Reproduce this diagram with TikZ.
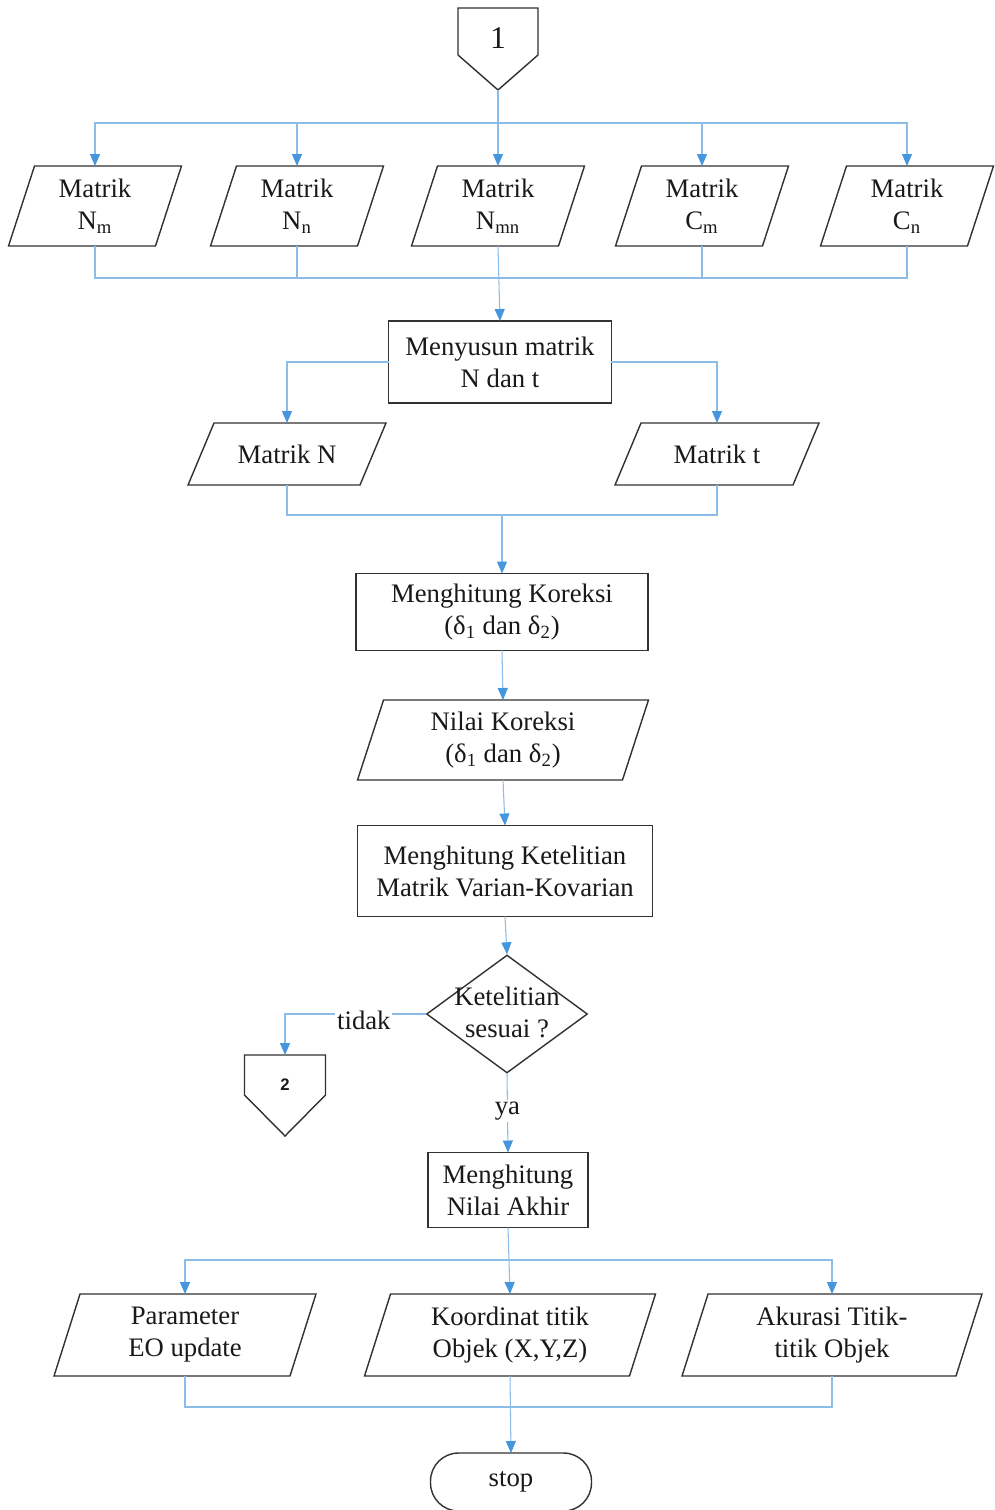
\documentclass[tikz,border=0pt]{standalone}
\usepackage{fontspec}
\setmainfont{Liberation Serif}
\newfontfamily\digitsans{Liberation Sans}
\usetikzlibrary{shapes.geometric,arrows.meta,backgrounds,calc}

\definecolor{flowline}{RGB}{140,188,232}
\definecolor{flowtip}{RGB}{70,150,222}
\definecolor{edge}{RGB}{50,50,50}
\definecolor{ink}{RGB}{25,25,25}

\tikzset{
  base/.style={outer sep=0pt, inner sep=2pt, align=center, text=ink,
    font=\fontsize{15.2}{18.2}\selectfont},
  outline/.style={draw=edge, line width=0.8pt, fill=white},
  procbox/.style={base, outline, rectangle},
  iotext/.style={base, rectangle},
  line/.style={draw=flowline, line width=0.6pt},
  flow/.style={line, -{Triangle[length=0.24cm,width=0.2cm,color=flowtip,fill=flowtip]}},
  lab/.style={base, fill=white, inner sep=1pt},
}

% parallelogram drawn behind an input/output node
\newcommand\ioframe[1]{%
  \begin{scope}[on background layer]
    \draw[outline] ([xshift=0.26cm]#1.north west) -- ([xshift=0.26cm]#1.north east)
      -- ([xshift=-0.26cm]#1.south east) -- ([xshift=-0.26cm]#1.south west) -- cycle;
  \end{scope}}

% off-page connector outline: #2 = depth of straight sides, #3 = depth of tip
\newcommand\offpage[3]{%
  \begin{scope}[on background layer]
    \draw[outline] (#1.north west) -- (#1.north east) -- ($(#1.north east)+(0,#2)$)
      -- ($(#1.north)+(0,#3)$) -- ($(#1.north west)+(0,#2)$) -- cycle;
  \end{scope}}

\begin{document}
\begin{tikzpicture}[x=0.02cm, y=-0.02cm]
\begin{scope}[on background layer]
  \fill[white] (0,0) rectangle (994,1510);
\end{scope}
\useasboundingbox (0,0) rectangle (994,1510);

% start connector
\node[base, rectangle, minimum width=1.6cm, minimum height=1.2cm,
  font=\fontsize{18}{20}\selectfont] (c1) at (498,38) {1};
\offpage{c1}{47}{82}
\coordinate (c1tip) at ($(c1.north)+(0,82)$);

% first row of matrices
\tikzset{rowone/.style={iotext, minimum width=2.94cm, minimum height=1.6cm}}
\node[rowone] (nm)  at (95,206)  {Matrik\\N\textsubscript{m}};
\node[rowone] (nn)  at (297,206) {Matrik\\N\textsubscript{n}};
\node[rowone] (nmn) at (498,206) {Matrik\\N\textsubscript{mn}};
\node[rowone] (cm)  at (702,206) {Matrik\\C\textsubscript{m}};
\node[rowone] (cn)  at (907,206) {Matrik\\C\textsubscript{n}};
\foreach \n in {nm,nn,nmn,cm,cn} {\ioframe{\n}}

\node[procbox, minimum width=4.46cm, minimum height=1.64cm] (susun) at (500,362)
  {Menyusun matrik\\N dan t};

\node[iotext, minimum width=3.44cm, minimum height=1.24cm] (matn) at (287,454) {Matrik N};
\node[iotext, minimum width=3.56cm, minimum height=1.24cm] (matt) at (717,454) {Matrik t};
\ioframe{matn}
\ioframe{matt}

\node[procbox, minimum width=5.84cm, minimum height=1.54cm] (koreksi) at (502,612)
  {Menghitung Koreksi\\(δ\textsubscript{1} dan δ\textsubscript{2})};

\node[iotext, minimum width=5.3cm, minimum height=1.6cm] (nilai) at (503,740)
  {Nilai Koreksi\\(δ\textsubscript{1} dan δ\textsubscript{2})};
\ioframe{nilai}

\node[procbox, minimum width=5.9cm, minimum height=1.82cm] (teliti) at (505,871)
  {Menghitung Ketelitian\\Matrik Varian-Kovarian};

\node[outline, diamond, inner sep=0pt, minimum width=3.22cm, minimum height=2.36cm] (dec) at (507,1014) {};
\node[base] (dectext) at (507,1012) {Ketelitian\\sesuai ?};

% connector to page 2
\node[base, rectangle, minimum width=1.62cm, minimum height=1.2cm,
  font=\digitsans\bfseries\fontsize{9.5}{11}\selectfont] (c2) at (285,1085) {2};
\offpage{c2}{40}{81}

\node[procbox, minimum width=3.2cm, minimum height=1.5cm] (akhir) at (508,1190)
  {Menghitung\\Nilai Akhir};

\tikzset{rowout/.style={iotext, minimum height=1.64cm}}
\node[rowout, minimum width=4.72cm] (param) at (185,1335) {Parameter\\EO update};
\node[rowout, minimum width=5.3cm]  (koord) at (510,1335) {Koordinat titik\\Objek (X,Y,Z)};
\node[rowout, minimum width=5.48cm] (akur)  at (832,1335) {Akurasi Titik-\\titik Objek};
\foreach \n in {param,koord,akur} {\ioframe{\n}}

\node[procbox, rounded corners=0.56cm, minimum width=3.22cm, minimum height=1.16cm] (stop) at (511,1482) {stop};

% junction points
\coordinate (b1) at (498,123);
\coordinate (m1) at (498,278);
\coordinate (m2) at (502,515);
\coordinate (b3) at (508,1260);
\coordinate (m3) at (510,1407);

% connectors
\draw[flow] (c1tip) -- (nmn.north);
\foreach \n in {nm,nn,cm,cn} {\draw[flow] (b1) -| (\n.north);}
\foreach \n in {nm,nn,cm,cn} {\draw[line] (\n.south) |- (m1);}
\draw[flow] (nmn.south) -- (susun.north);

\draw[flow] (susun.west) -| (matn.north);
\draw[flow] (susun.east) -| (matt.north);
\draw[line] (matn.south) |- (m2);
\draw[line] (matt.south) |- (m2);
\draw[flow] (m2) -- (koreksi.north);

\draw[flow] (koreksi.south) -- (nilai.north);
\draw[flow] (nilai.south) -- (teliti.north);
\draw[flow] (teliti.south) -- (dec.north);
\draw[flow] (dec.west) -| node[lab, pos=0.22, yshift=-0.12cm] {tidak} (c2.north);
\draw[flow] (dec.south) -- node[lab, pos=0.47] {ya} (akhir.north);

\draw[flow] (akhir.south) -- (koord.north);
\draw[flow] (b3) -| (param.north);
\draw[flow] (b3) -| (akur.north);
\draw[line] (param.south) |- (m3);
\draw[line] (akur.south) |- (m3);
\draw[flow] (koord.south) -- (stop.north);
\end{tikzpicture}
\end{document}
